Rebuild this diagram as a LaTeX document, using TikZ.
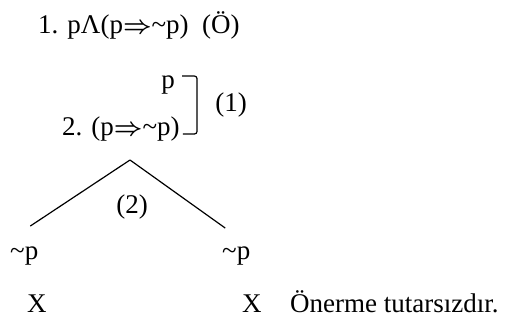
\documentclass[tikz,border=0pt]{standalone}
\usepackage{amsmath}
\usepackage{fontspec}
\setmainfont{Liberation Serif}
\usepackage{tikz}
\usetikzlibrary{positioning}
\newcommand{\Neg}{\textasciitilde}
\newcommand{\Imp}{$\boldsymbol\Rightarrow$}
\tikzset{
    satir/.style={inner sep=0pt,anchor=base west},
    dal/.style={line width=1.2pt},
    kanca/.style={line width=1.2pt,rounded corners=2.5pt}
}
\begin{document}
\begin{tikzpicture}[x=1pt,y=-1pt,font=\fontsize{27}{31}\selectfont]
    \useasboundingbox (0,0) rectangle (506,324);

        % Öncüller
    \node[satir] (onc1) at (38,33) {1. pΛ(p\Imp\Neg p)\enspace(Ö)};
    \node[satir,anchor=base east] (p) at (175,88) {p};
    \node[satir] (onc2) at (62,135) {2. (p\Imp\Neg p)};

        % Kural (1)
    \draw[kanca] ([xshift=7pt,yshift=-1pt]p.north east) -- ++(15,0)
                 |- ([xshift=3pt,yshift=1pt]onc2.base east);
    \node (k1) at (231,105) {(1)};

        % Kural (2): dallanma
    \coordinate (tepe) at (130,160);
    \node[satir] (negL) at (10,259) {\Neg p};
    \node[satir] (negR) at (222,259) {\Neg p};
    \draw[dal] (tepe) -- ([shift={(6,-20)}]negL.north);  % sol dal
    \draw[dal] (tepe) -- ([shift={(-11,-18)}]negR.north); % sağ dal
    \node (k2) at (132,207) {(2)};

        % Kapanan dallar
    \node[satir] (xL) at (27,312) {X};
    \node[satir] (xR) at (242,312) {X};
    \node[satir] (sonuc) at (290,312) {Önerme tutarsızdır.};

\end{tikzpicture}
\end{document}
